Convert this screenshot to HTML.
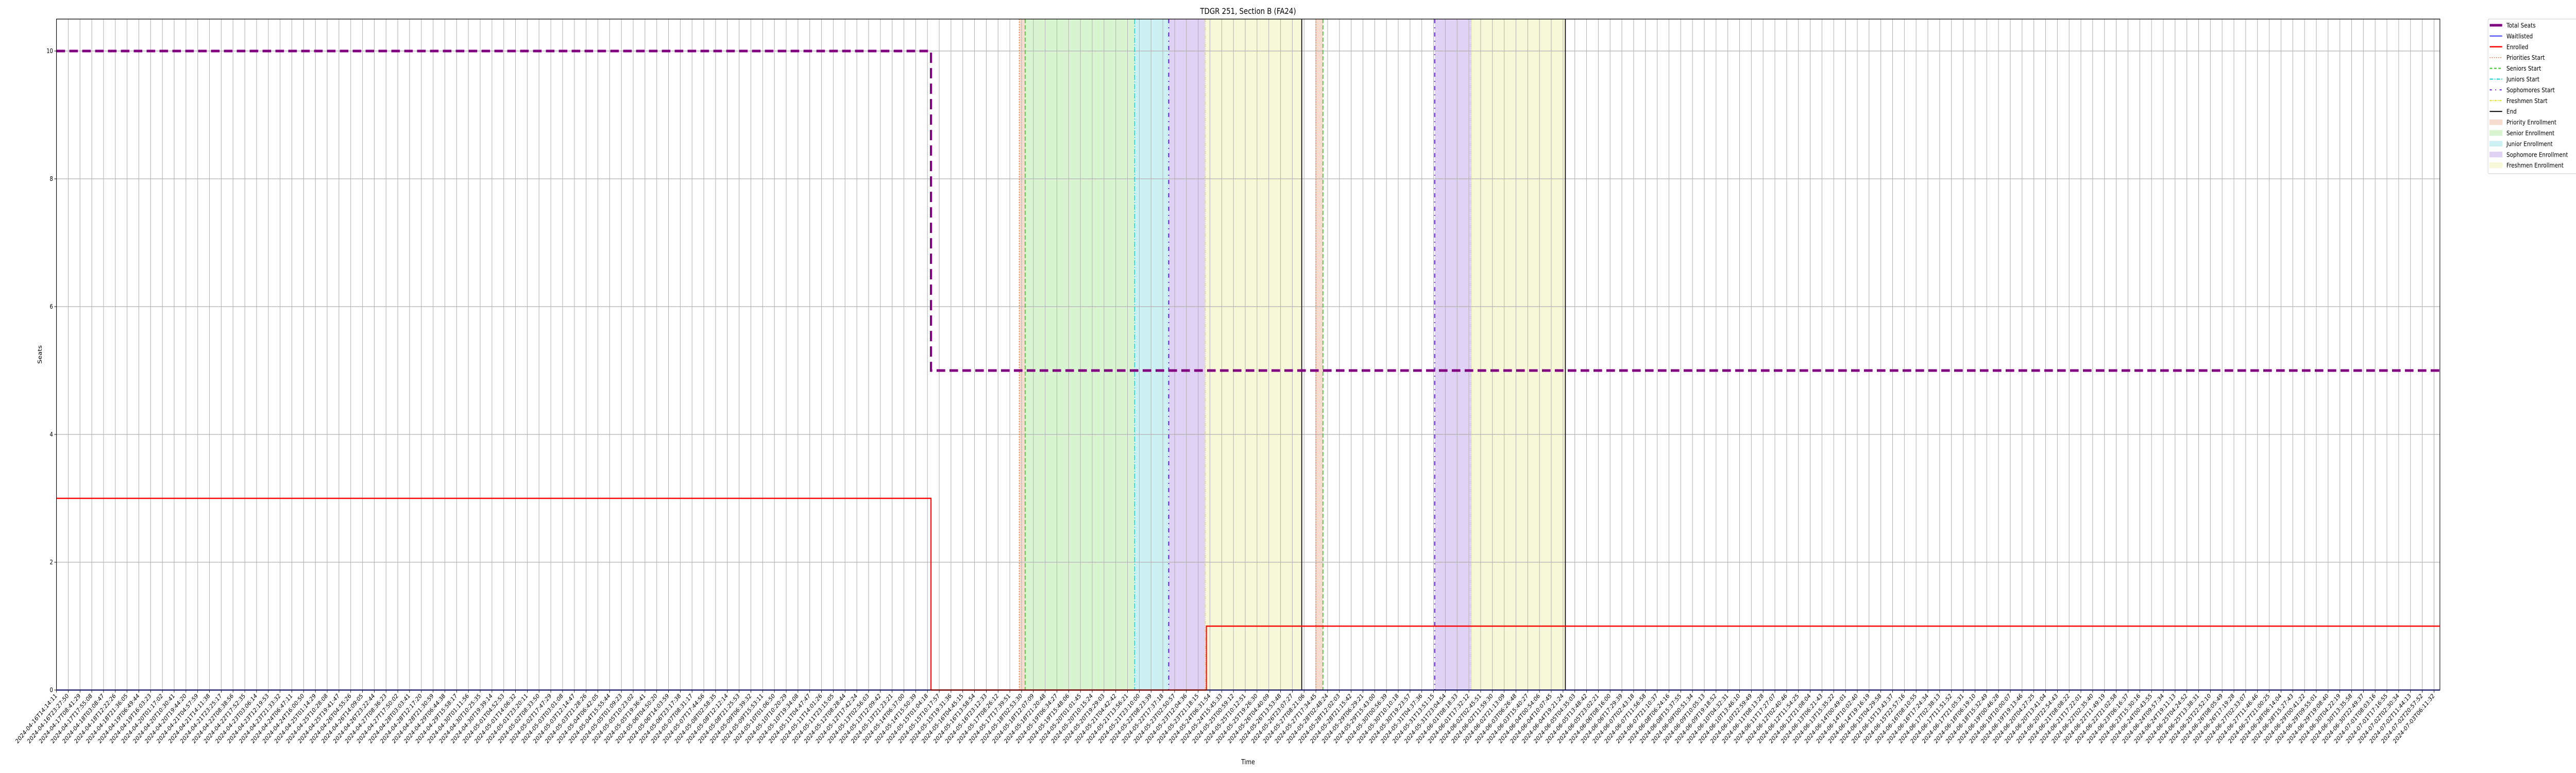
<!DOCTYPE html>
<html><head><meta charset="utf-8">
<meta name="viewport" content="width=6000, initial-scale=1">
<style>
html,body{margin:0;padding:0;background:#fff;width:100%;height:100%;overflow:hidden}
svg{display:block;position:absolute;left:0;top:0;width:100vw;height:100vh;font-family:"DejaVu Sans","Liberation Sans",sans-serif}
</style></head>
<body>
<svg id="chart" viewBox="0 0 6000 1500" preserveAspectRatio="none" xmlns="http://www.w3.org/2000/svg">
<text x="2907" y="27" font-size="16" text-anchor="middle">TDGR 251, Section B (FA24)</text>
<text x="2907" y="1483" font-size="13" text-anchor="middle">Time</text>
<text x="97" y="688" font-size="13" text-anchor="middle" transform="rotate(-90 97 688)">Seats</text>
<g id="plot"></g>
<g id="legend"></g>
</svg>
<script>
// ---- data ----
const tickCount = 203;
const tickStart = "2024-04-16T14:14:11";
const tickEnd = "2024-07-03T06:11:32";
const yTicks = [0, 2, 4, 6, 8, 10];
// step series: [startIndex, value]
const totalSeats = [[0, 10], [74.3, 5], [202.5, 5]];
const enrolled = [[0, 3], [74.3, 0], [97.7, 1], [202.5, 1]];
const waitlisted = [[0, 0], [202.5, 0]];
// phase spans: [start, end, kind]
const spans = [
  [81.8, 82.3, "priority"], [82.3, 91.6, "senior"], [91.6, 94.5, "junior"],
  [94.5, 97.6, "sophomore"], [97.6, 105.8, "freshmen"],
  [107.0, 107.6, "priority"], [117.1, 120.2, "sophomore"], [120.2, 128.2, "freshmen"]
];
// event lines: [index, kind]
const events = [
  [81.8, "priorities"], [82.3, "seniors"], [91.6, "juniors"], [94.5, "sophomores"], [97.6, "freshmen"], [105.8, "end"],
  [107.0, "priorities"], [107.6, "seniors"], [117.1, "sophomores"], [120.2, "freshmen"], [128.2, "end"]
];

// ---- styles ----
const L = 131.5, R = 5683, T = 37, B = 1339, XMAX = 202.5, YMAX = 10.5;
const sx = i => L + (R - L) * i / XMAX;
const sy = v => B - (B - T) * v / YMAX;
const spanColor = {priority:"#f6dccf", senior:"#d9f4d1", junior:"#cdf0f2", sophomore:"#dfd2f4", freshmen:"#f7f8d8"};
const evStyle = {
  priorities:{c:"#ee6a2a", d:"2,3", w:1.5},
  seniors:{c:"#33cc22", d:"8,4", w:2},
  juniors:{c:"#11cccc", d:"10,3,2,3", w:1.5},
  sophomores:{c:"#6622dd", d:"8,8,2,8", w:2.5},
  freshmen:{c:"#e0e020", d:"6,2,2,2,2,2", w:1.5},
  end:{c:"#000", d:"", w:2}
};
const NS = "http://www.w3.org/2000/svg";
const plot = document.getElementById('plot');
function mk(tag, attrs, parent) {
  const e = document.createElementNS(NS, tag);
  for (const k in attrs) e.setAttribute(k, attrs[k]);
  (parent || plot).appendChild(e);
  return e;
}

// spans
spans.forEach(s => {
  const r = mk('rect', {x: sx(s[0]), y: T, width: sx(s[1]) - sx(s[0]), height: B - T, fill: spanColor[s[2]]});
  
  
});

// grid
for (let i = 0; i < tickCount; i++) {
  const g = mk('line', {x1: sx(i), x2: sx(i), y1: T, y2: B, stroke: "#b0b0b0", "stroke-width": 1.2});
  
  
}
yTicks.forEach(v => {
  const g = mk('line', {x1: L, x2: R, y1: sy(v), y2: sy(v), stroke: "#b0b0b0", "stroke-width": 1.2});
  
  
  const t = mk('line', {x1: L - 5, x2: L, y1: sy(v), y2: sy(v), stroke: "#000", "stroke-width": 1});
  
  
  const tx = mk('text', {x: L - 8, y: sy(v) + 4, "font-size": 12, "text-anchor": "end"});
  tx.textContent = v;
  
  
});

// event lines
events.forEach(e => {
  const st = evStyle[e[1]];
  const l = mk('line', {x1: sx(e[0]), x2: sx(e[0]), y1: T, y2: B, stroke: st.c, "stroke-width": st.w, "stroke-dasharray": st.d});
  
  
});

// step series
function stepPath(data) {
  let d = "M" + sx(data[0][0]) + "," + sy(data[0][1]);
  for (let k = 1; k < data.length; k++) {
    d += " L" + sx(data[k][0]) + "," + sy(data[k - 1][1]) + " L" + sx(data[k][0]) + "," + sy(data[k][1]);
  }
  return d;
}
const wl = mk('path', {d: stepPath(waitlisted), fill: "none", stroke: "#0000ff", "stroke-width": 2});


const en = mk('path', {d: stepPath(enrolled), fill: "none", stroke: "#ff0000", "stroke-width": 2.5});


const ts = mk('path', {d: stepPath(totalSeats), fill: "none", stroke: "#800080", "stroke-width": 5, "stroke-dasharray": "20,10"});



// axes frame
const fr = mk('rect', {x: L, y: T, width: R - L, height: B - T, fill: "none", stroke: "#000", "stroke-width": 1.3});



// x ticks + labels
const t0 = Date.parse(tickStart + "Z"), t1 = Date.parse(tickEnd + "Z");
const tickLabels = [];
for (let i = 0; i < tickCount; i++) {
  tickLabels.push(new Date(t0 + (t1 - t0) * i / (tickCount - 1)).toISOString().slice(0, 19));
}
tickLabels.forEach((lab, i) => {
  const x = sx(i);
  const t = mk('line', {x1: x, x2: x, y1: B, y2: B + 5, stroke: "#000", "stroke-width": 1});
  
  
  const tx = mk('text', {x: x + 2, y: B + 12, "font-size": 12, "text-anchor": "end", transform: "rotate(-45 " + (x + 2) + " " + (B + 12) + ")"});
  tx.textContent = lab;
  
  
});

// legend
const lg = document.getElementById('legend');
mk('rect', {x: 5795, y: 37, width: 210, height: 300, fill: "#fff", stroke: "#ccc", "stroke-width": 1, rx: 3}, lg);
const entries = [
  ["Total Seats", "line", "#800080", 5, ""],
  ["Waitlisted", "line", "#0000ff", 1.5, ""],
  ["Enrolled", "line", "#ff0000", 2.5, ""],
  ["Priorities Start", "line", "#ee6a2a", 1.5, "2,3"],
  ["Seniors Start", "line", "#33cc22", 2, "6,4"],
  ["Juniors Start", "line", "#11cccc", 2, "8,3,2,3"],
  ["Sophomores Start", "line", "#6622dd", 2, "5,8,2,8"],
  ["Freshmen Start", "line", "#e0e020", 2, "5,2,2,2"],
  ["End", "line", "#000", 2, ""],
  ["Priority Enrollment", "box", "#f6dccf"],
  ["Senior Enrollment", "box", "#d9f4d1"],
  ["Junior Enrollment", "box", "#cdf0f2"],
  ["Sophomore Enrollment", "box", "#dfd2f4"],
  ["Freshmen Enrollment", "box", "#f7f8d8"]
];
entries.forEach((e, k) => {
  const y = 49 + k * 20.9;
  if (e[1] === "line") {
    mk('line', {x1: 5799, x2: 5828, y1: y, y2: y, stroke: e[2], "stroke-width": e[3], "stroke-dasharray": e[4]}, lg);
  } else {
    mk('rect', {x: 5799, y: y - 5, width: 29, height: 10, fill: e[2], stroke: e[2]}, lg);
  }
  const tx = mk('text', {x: 5838, y: y + 4.5, "font-size": 12.5}, lg);
  tx.textContent = e[0];
  
  
});
</script>
</body></html>
